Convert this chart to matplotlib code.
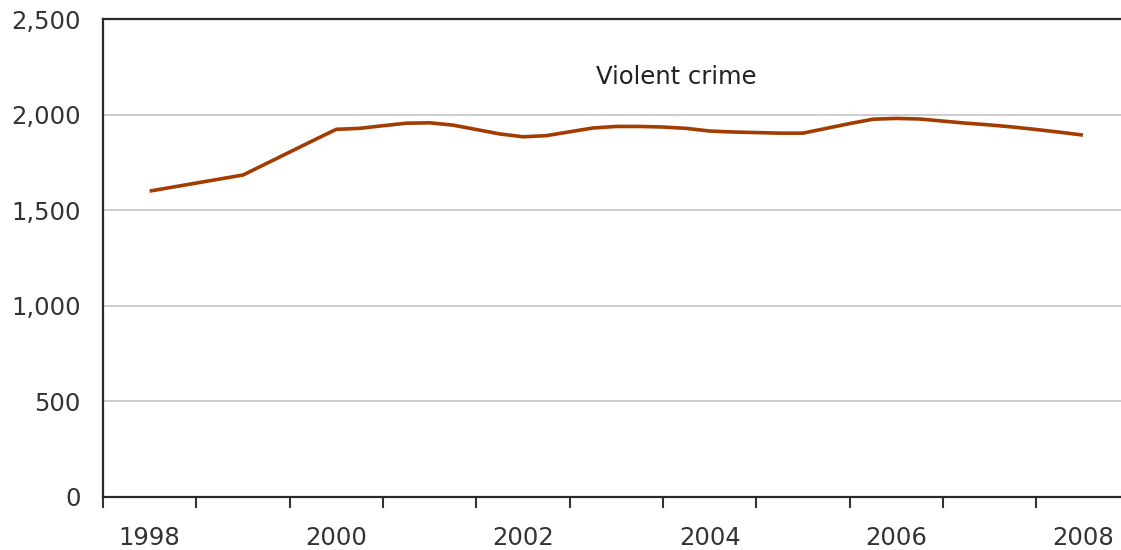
import numpy as np
import matplotlib.pyplot as plt

# quarterly points, year ending each quarter (mid-1998 to mid-2008)
quarters = np.arange(1998.5, 2008.51, 0.25)
violent = [1600, 1621, 1642, 1663, 1684, 1744, 1804, 1864, 1923,
           1928, 1942, 1955, 1957, 1945, 1922, 1899, 1884, 1890,
           1910, 1930, 1938, 1938, 1935, 1928, 1914, 1909, 1906,
           1903, 1903, 1928, 1953, 1976, 1980, 1977, 1966, 1955,
           1946, 1935, 1922, 1908, 1893]
year_labels = ["1998", "2000", "2002", "2004", "2006", "2008"]

fig = plt.figure(figsize=(11.21, 5.5), dpi=100)
ax = fig.add_axes([103/1121, 53/550, 1 - 103/1121, 478/550])

ax.plot(quarters, violent, color="#a33c00", lw=2.6, solid_capstyle="butt")

ax.set_ylim(0, 2500)
ax.set_yticks(np.arange(0, 2501, 500))
ax.set_yticklabels([f"{v:,}" for v in range(0, 2501, 500)])
ax.set_xlim(1998, 1998 + (1121 - 103) / 93.33)

ax.set_xticks(np.arange(1998, 2009))
ax.set_xticklabels([])
ax.set_xticks(np.arange(1998.5, 2009, 2), minor=True)
ax.set_xticklabels(year_labels, minor=True)

ax.grid(axis="y", color="#c8c8c8", lw=1.3)
ax.set_axisbelow(True)
ax.tick_params(axis="x", which="major", length=8, width=1.5, color="#333333", direction="out")
ax.tick_params(axis="x", which="minor", length=0, pad=21, labelsize=17.5, labelcolor="#333333")
ax.tick_params(axis="y", length=0, pad=16, labelsize=17.5, labelcolor="#333333")

for s in ["left", "bottom", "top"]:
    ax.spines[s].set_color("#2a2a2a")
    ax.spines[s].set_linewidth(1.6)
ax.spines["right"].set_visible(False)

ax.text(0.563, 0.879, "Violent crime", transform=ax.transAxes, ha="center", va="center",
        fontsize=17.5, color="#222222")

fig.savefig("out.png", dpi=100)
